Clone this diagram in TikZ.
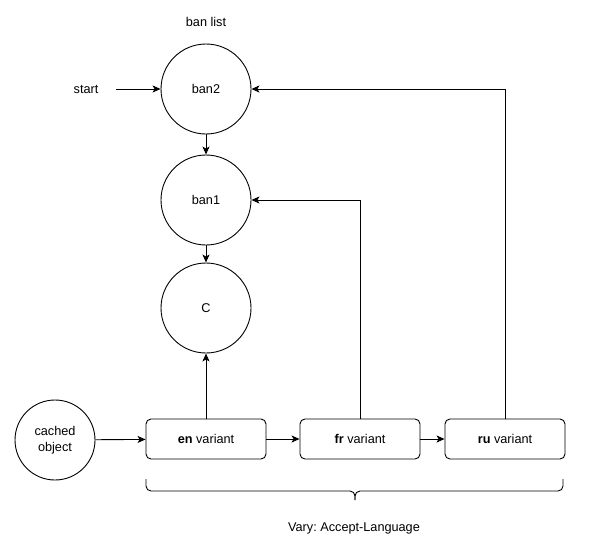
\documentclass[tikz,border=0pt]{standalone}
\usepackage{fontspec}
\setmainfont{Liberation Sans}
\usetikzlibrary{arrows.meta}
\frenchspacing
\begin{document}
\begin{tikzpicture}[x=1pt,y=-1pt,
  every node/.style={font=\fontsize{12.7}{16}\selectfont},
  circ/.style={draw,circle,line width=0.9pt,minimum size=90pt,inner sep=0pt},
  smallcirc/.style={draw,circle,line width=0.9pt,minimum size=80pt,inner sep=0pt,align=center},
  vbox/.style={draw,rounded corners=5pt,line width=0.9pt,minimum width=120pt,minimum height=40pt,inner sep=0pt},
  conn/.style={line width=0.9pt,-{Stealth[length=8pt,width=7pt,inset=2pt]}},
  lbl/.style={inner sep=0pt}]
\useasboundingbox (0,0) rectangle (597,544);
\node[lbl] (banlist) at (206,22) {ban list};
\node[circ] (ban2) at (206,89) {ban2};
\node[circ] (ban1) at (206,200) {ban1};
\node[circ] (c) at (206,308) {C};
\node[lbl] (start) at (86,89) {start};
\coordinate (starte) at (116,89);
\node[smallcirc] (obj) at (55,440) {cached\\object};
\node[vbox] (en) at (206,439) {\textbf{en} variant};
\node[vbox] (fr) at (360,439) {\textbf{fr} variant};
\node[vbox] (ru) at (505,439) {\textbf{ru} variant};
\node[lbl] (vary) at (354,528) {Vary: Accept-Language};
\draw[conn] (starte) -- (ban2);
\draw[conn] (ban2) -- (ban1);
\draw[conn] (ban1) -- (c);
\draw[conn] (en) -- (c);
\draw[conn] (obj) -- (en);
\draw[conn] (en) -- (fr);
\draw[conn] (fr) -- (ru);
\draw[conn] (fr.north) |- (ban1.east);
\draw[conn] (ru.north) |- (ban2.east);
\draw[line width=0.9pt] (146,479) -- (146,486) arc[start angle=180,end angle=90,radius=5] -- (350,491) arc[start angle=-90,end angle=0,radius=5] -- (355,500);
\draw[line width=0.9pt] (563,479) -- (563,486) arc[start angle=0,end angle=90,radius=5] -- (360,491) arc[start angle=-90,end angle=-180,radius=5] -- (355,500);
\end{tikzpicture}
\end{document}
